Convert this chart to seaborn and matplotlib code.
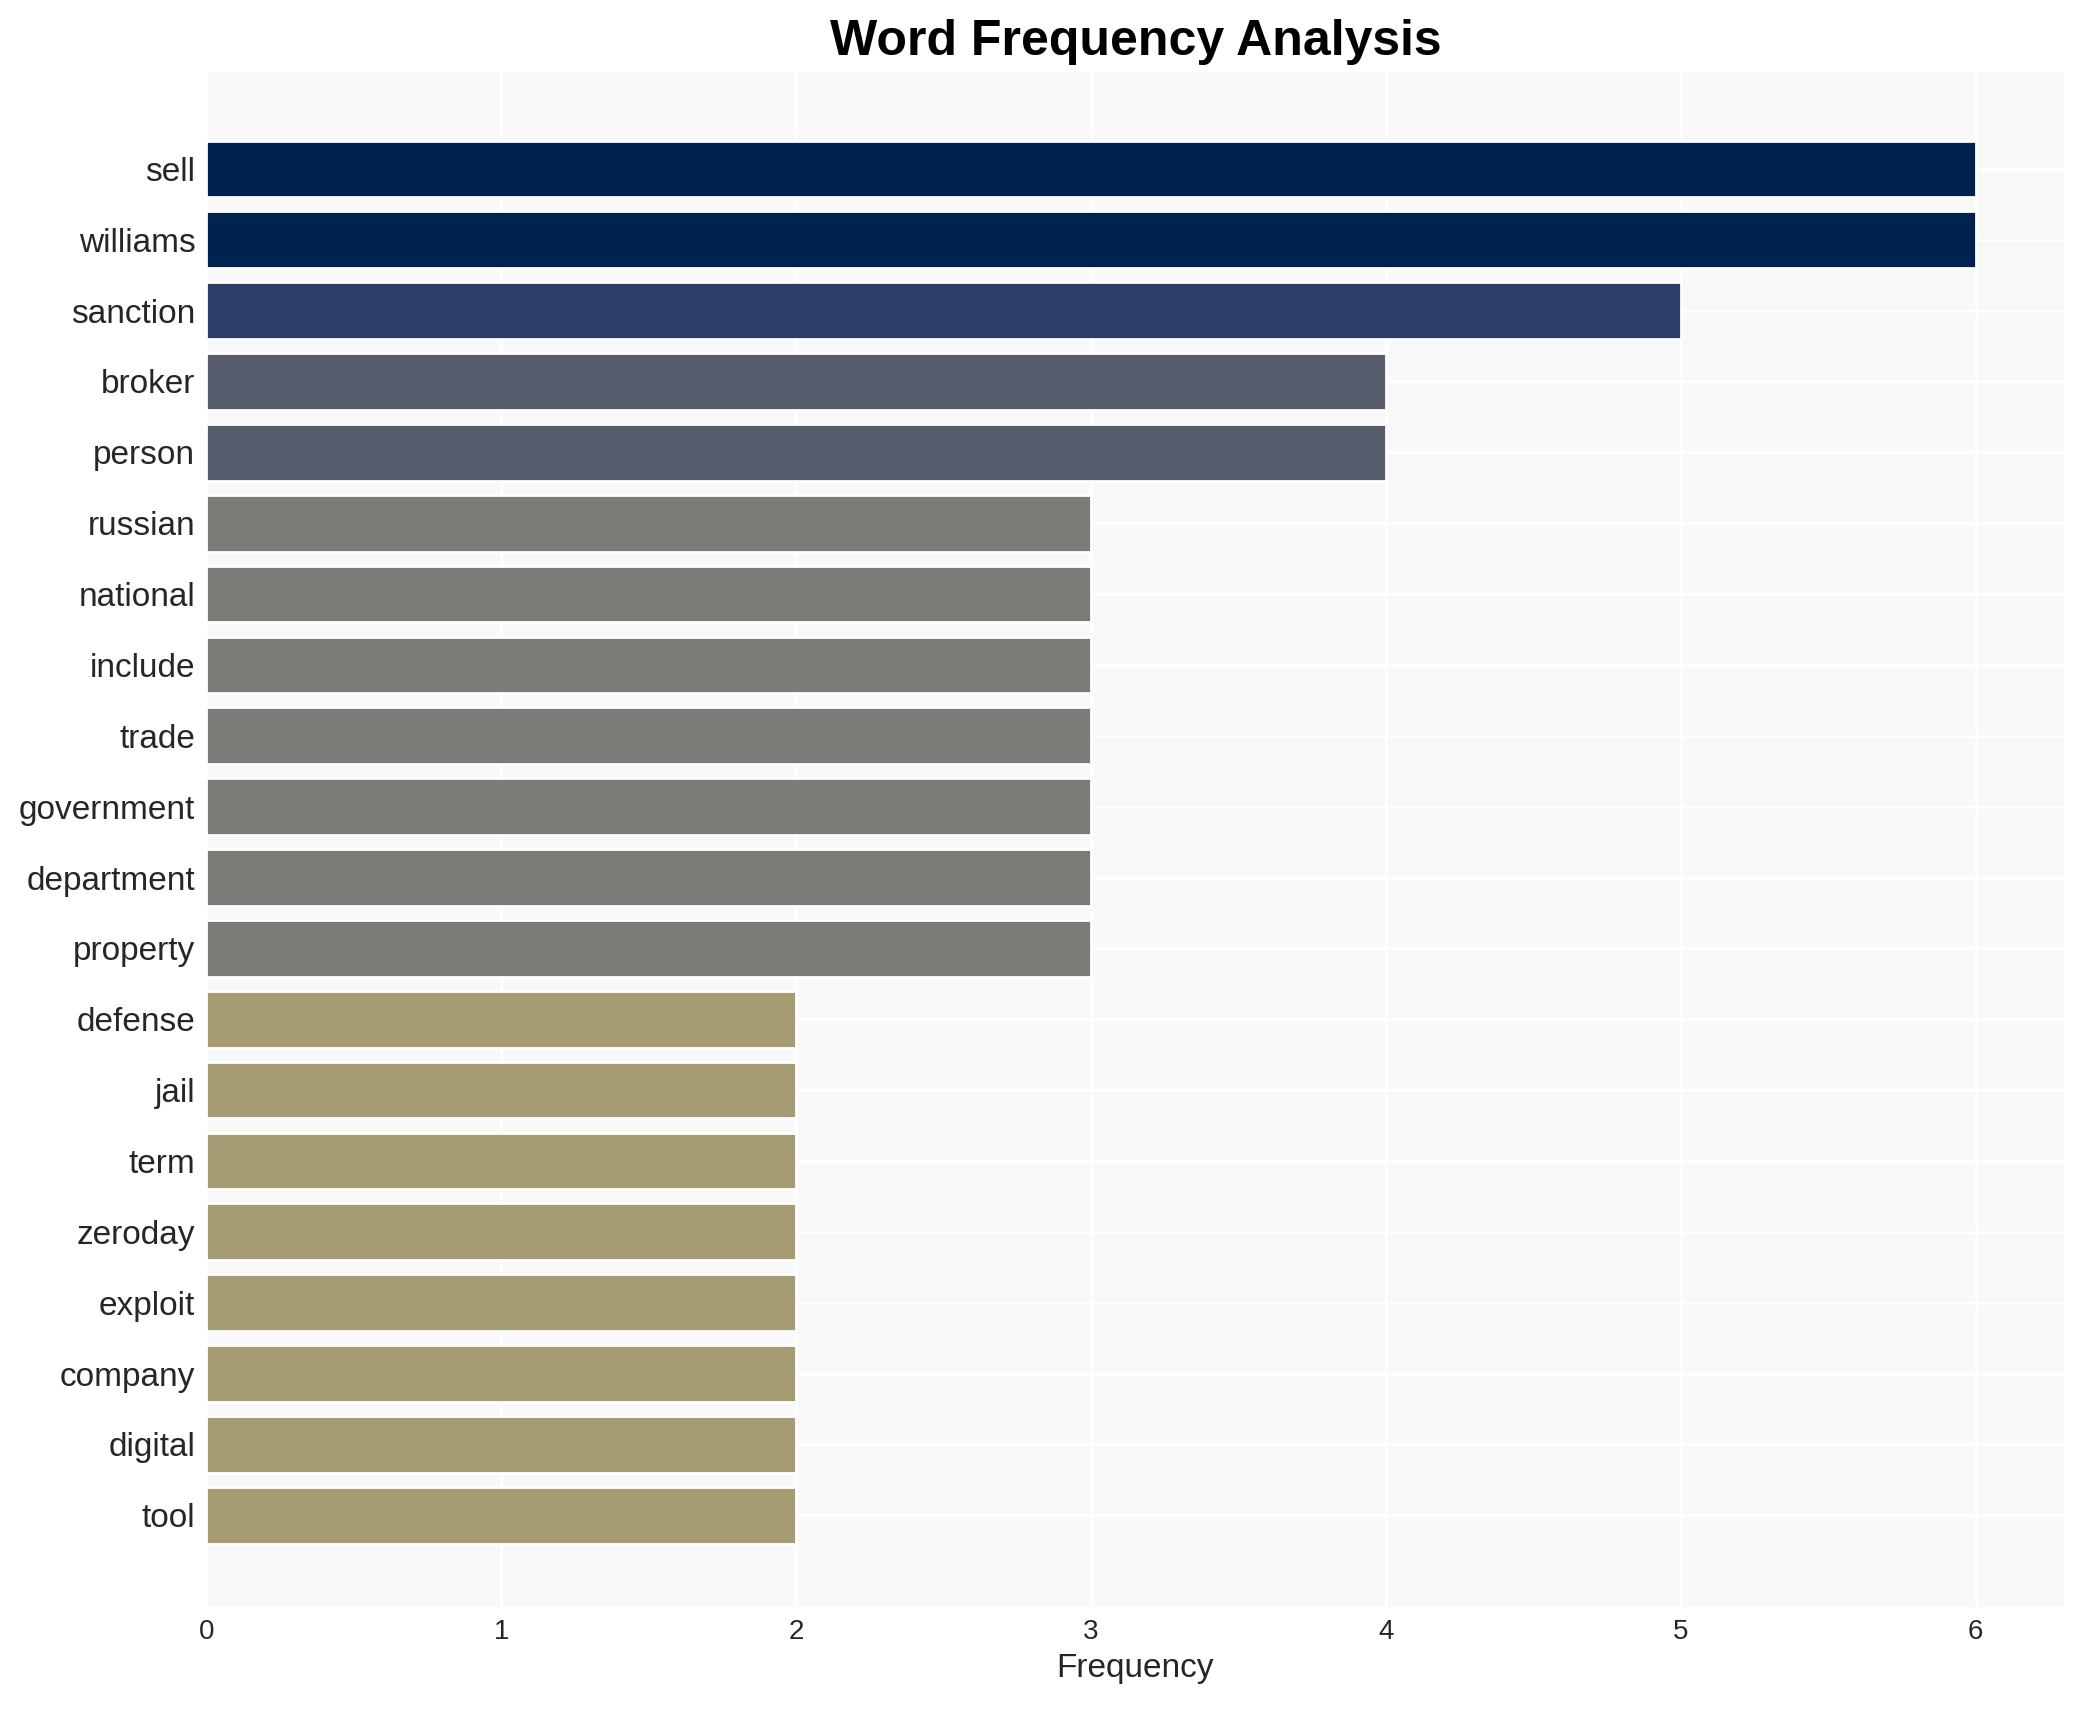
import matplotlib
matplotlib.use("Agg")
import matplotlib.pyplot as plt
import seaborn as sns
import pandas as pd

words = ["sell", "williams", "sanction", "broker", "person", "russian", "national",
         "include", "trade", "government", "department", "property", "defense", "jail",
         "term", "zeroday", "exploit", "company", "digital", "tool"]
counts = [6, 6, 5, 4, 4, 3, 3, 3, 3, 3, 3, 3, 2, 2, 2, 2, 2, 2, 2, 2]

palette = {6: "#00224e", 5: "#2c3d6b", 4: "#575d6d", 3: "#7c7b78", 2: "#a59c74"}

df = pd.DataFrame({"word": words, "count": counts})

sns.set_theme(style="darkgrid")
plt.rcParams["font.family"] = ["Liberation Sans", "DejaVu Sans"]

fig = plt.figure(figsize=(10.425, 8.55), dpi=200)
ax = fig.add_axes([0.099, 0.06, 0.891, 0.898])
ax.set_facecolor("#f8f8f8")

sns.barplot(data=df, y="word", x="count", hue="count", palette=palette,
            dodge=False, legend=False, ax=ax, orient="h", width=0.8, saturation=1)

ax.set_title("Word Frequency Analysis", fontsize=18, fontweight="bold", pad=6, color="black")
ax.set_xlabel("Frequency", fontsize=12, labelpad=3)
ax.set_ylabel("")
ax.tick_params(axis="y", labelsize=12, pad=4, length=0)
ax.tick_params(axis="x", labelsize=10, pad=4, length=0)
ax.grid(color="white", linewidth=1)
ax.set_xlim(0, 6.3)
ax.set_ylim(len(words) - 1 + 1.3, -1.37)
for s in ax.spines.values():
    s.set_visible(False)

fig.savefig("out.png", dpi=200)
